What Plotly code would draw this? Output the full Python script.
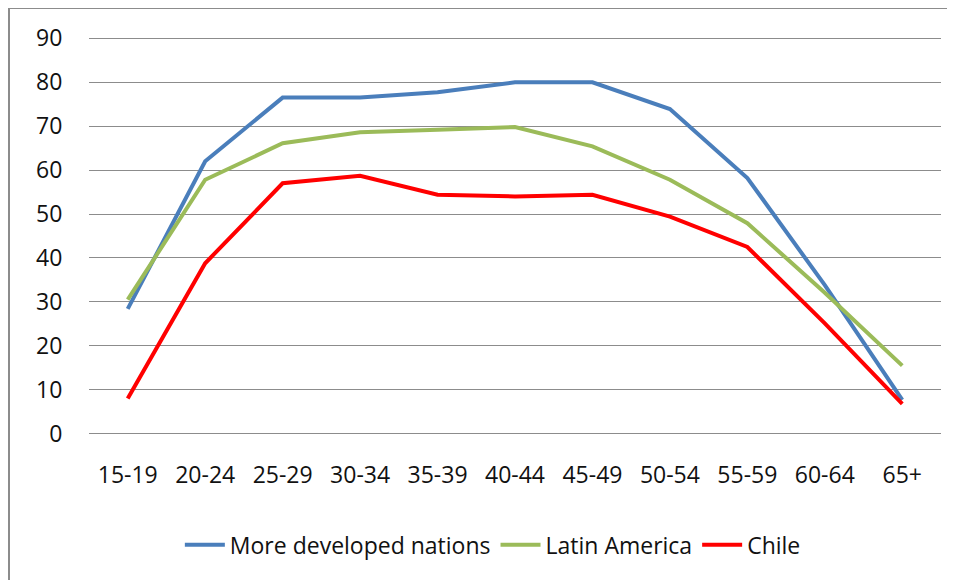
import plotly.graph_objects as go

age_groups = ["15-19", "20-24", "25-29", "30-34", "35-39", "40-44",
              "45-49", "50-54", "55-59", "60-64", "65+"]
more_developed = [28.4, 62.0, 76.5, 76.5, 77.7, 80.0, 80.0, 73.9, 58.2, 33.8, 7.7]
latin_america = [30.5, 57.8, 66.1, 68.6, 69.2, 69.8, 65.4, 57.8, 47.9, 32.1, 15.5]
chile = [8.0, 38.8, 57.0, 58.7, 54.4, 54.0, 54.4, 49.4, 42.5, 25.1, 6.8]
y_ticks = [0, 10, 20, 30, 40, 50, 60, 70, 80, 90]

series = [
    ("More developed nations", more_developed, "#4A7EBB"),
    ("Latin America", latin_america, "#9BBB59"),
    ("Chile", chile, "#FF0000"),
]

FONT = "Open Sans, Lato, DejaVu Sans, sans-serif"

fig = go.Figure()
for name, vals, color in series:
    fig.add_trace(go.Scatter(
        x=age_groups, y=vals, name=name, mode="lines",
        line=dict(color=color, width=4),
    ))

border = "#8C8C8C"
fig.update_layout(
    width=947, height=572,
    margin=dict(l=81, r=14, t=29, b=145, autoexpand=False),
    paper_bgcolor="white", plot_bgcolor="white",
    font=dict(family=FONT, size=23, color="#111111"),
    showlegend=True,
    legend=dict(orientation="h", x=0.474, xanchor="center", y=-0.276,
                yanchor="middle", font=dict(size=23), itemwidth=40,
                traceorder="normal"),
    xaxis=dict(
        type="category", range=[-0.5, 10.5], automargin=False,
        showgrid=False, zeroline=False, showline=False,
        ticks="outside", ticklen=19, tickcolor="rgba(0,0,0,0)",
        tickfont=dict(size=23),
    ),
    yaxis=dict(
        range=[-0.3, 90.3], tickvals=y_ticks, automargin=False,
        showgrid=True, gridcolor=border, gridwidth=1,
        zeroline=False, showline=False,
        ticks="outside", ticklen=21, tickcolor="rgba(0,0,0,0)",
        tickfont=dict(size=23),
    ),
    shapes=[
        dict(type="line", xref="paper", yref="paper",
             x0=-0.0939, x1=-0.0939, y0=-0.4, y1=1.0729,
             line=dict(color=border, width=2), layer="below"),
        dict(type="line", xref="paper", yref="paper",
             x0=-0.0939, x1=1.05, y0=1.0729, y1=1.0729,
             line=dict(color=border, width=2), layer="below"),
    ],
)

fig.write_html("out.html")
